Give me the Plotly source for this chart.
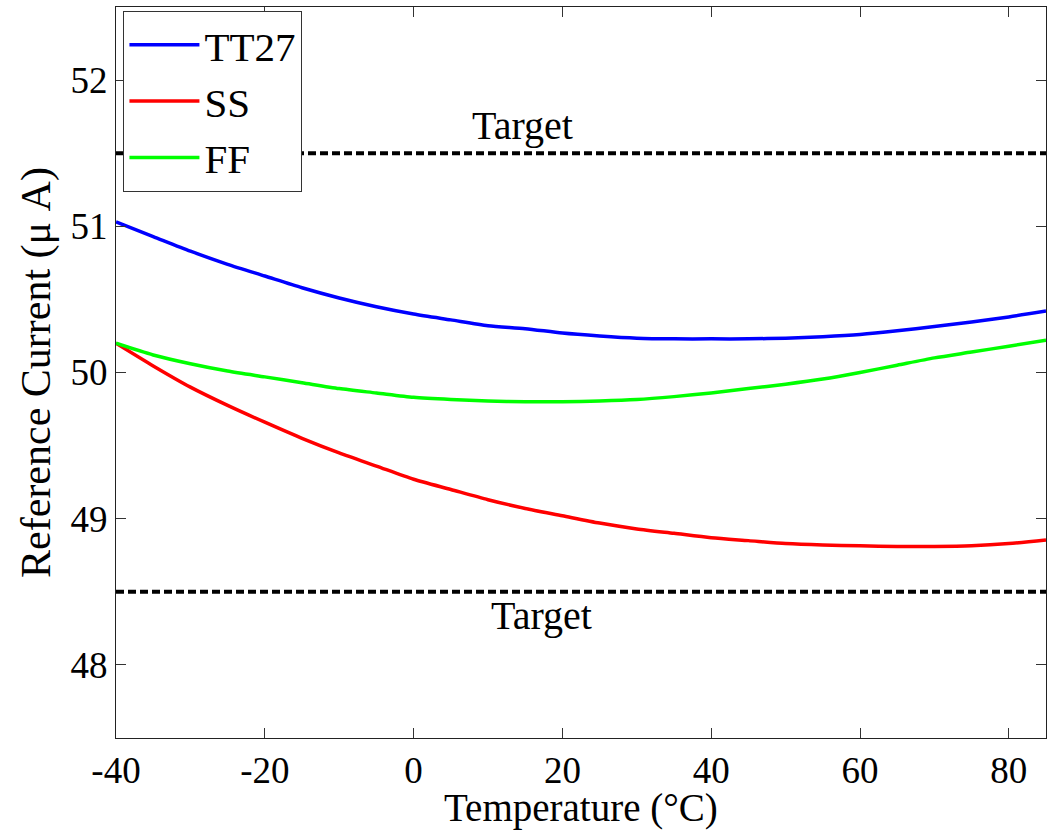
import plotly.graph_objects as go

temperature = [-40, -35, -30, -25, -20, -15, -10, -5, 0, 5, 10, 15, 20, 25, 30,
               35, 40, 45, 50, 55, 60, 65, 70, 75, 80, 85]
tt27 = [51.03, 50.93, 50.83, 50.74, 50.66, 50.58, 50.51, 50.45, 50.40, 50.36, 50.32,
        50.30, 50.27, 50.25, 50.235, 50.23, 50.23, 50.23, 50.235, 50.245, 50.26, 50.285,
        50.315, 50.345, 50.38, 50.42]
ss = [50.20, 50.045, 49.90, 49.775, 49.66, 49.55, 49.45, 49.36, 49.27, 49.20, 49.13,
      49.07, 49.02, 48.97, 48.93, 48.90, 48.87, 48.85, 48.83, 48.82, 48.815, 48.81,
      48.81, 48.815, 48.83, 48.855]
ff = [50.20, 50.12, 50.06, 50.01, 49.97, 49.93, 49.89, 49.86, 49.83, 49.815, 49.805,
      49.80, 49.80, 49.805, 49.815, 49.835, 49.86, 49.89, 49.92, 49.955, 50.00, 50.05,
      50.10, 50.14, 50.18, 50.22]
target_x = [-40, 85]
target_hi = [51.5, 51.5]
target_lo = [48.5, 48.5]
x_ticks = [-40, -20, 0, 20, 40, 60, 80]
x_tick_labels = ["-40", "-20", "0", "20", "40", "60", "80"]
y_ticks = [48, 49, 50, 51, 52]
y_tick_labels = ["48", "49", "50", "51", "52"]

FONT = "Liberation Serif"

fig = go.Figure()
fig.add_trace(go.Scatter(x=target_x, y=target_hi, mode="lines", showlegend=False,
                         line=dict(color="black", width=4, dash="8px,4px")))
fig.add_trace(go.Scatter(x=target_x, y=target_lo, mode="lines", showlegend=False,
                         line=dict(color="black", width=4, dash="8px,4px")))
fig.add_trace(go.Scatter(x=temperature, y=tt27, mode="lines", name="TT27",
                         line=dict(color="#0000ff", width=3.5, shape="spline", smoothing=0.7)))
fig.add_trace(go.Scatter(x=temperature, y=ss, mode="lines", name="SS",
                         line=dict(color="#ff0000", width=3.5, shape="spline", smoothing=0.7)))
fig.add_trace(go.Scatter(x=temperature, y=ff, mode="lines", name="FF",
                         line=dict(color="#00ff00", width=3.5, shape="spline", smoothing=0.7)))

fig.add_annotation(x=14.6, y=51.69, text="Target", showarrow=False,
                   font=dict(family=FONT, size=40, color="black"))
fig.add_annotation(x=17.2, y=48.34, text="Target", showarrow=False,
                   font=dict(family=FONT, size=40, color="black"))
# x-axis title, placed just below the tick labels
fig.add_annotation(x=0.5, y=0, xref="paper", yref="paper", xanchor="center", yanchor="top",
                   yshift=-47, borderpad=0, text="Temperature (°C)", showarrow=False,
                   font=dict(family=FONT, size=39, color="black"))

axis_common = dict(showline=True, linecolor="#222222", linewidth=1, mirror="ticks",
                   ticks="inside", ticklen=10, tickcolor="#333333", tickwidth=1,
                   showgrid=False, zeroline=False, automargin=False,
                   tickfont=dict(family=FONT, size=37, color="black"))

fig.update_layout(
    width=1048, height=833,
    margin=dict(l=116, r=2, t=7, b=95),
    paper_bgcolor="white", plot_bgcolor="white",
    font=dict(family=FONT, size=40, color="black"),
    xaxis=dict(range=[-40, 85], tickvals=x_ticks, ticktext=x_tick_labels, **axis_common),
    yaxis=dict(range=[47.5, 52.5], tickvals=y_ticks, ticktext=y_tick_labels,
               title=dict(text="Reference Current (μ A)", font=dict(family=FONT, size=42), standoff=6),
               **axis_common),
    legend=dict(x=0.008, y=0.995, xanchor="left", yanchor="top",
                bgcolor="white", bordercolor="#333333", borderwidth=1,
                font=dict(family=FONT, size=41, color="black"),
                itemwidth=70, tracegroupgap=0),
)

fig.write_html("out.html")
